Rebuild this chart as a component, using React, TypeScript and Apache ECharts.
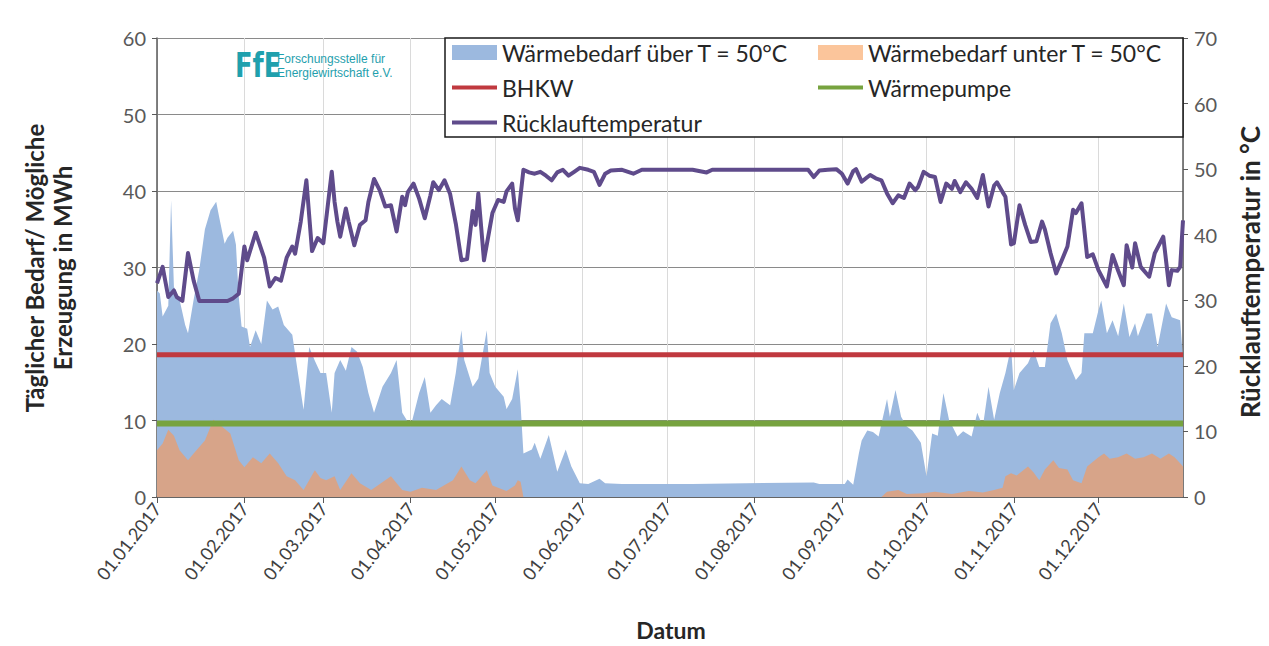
import React, { useEffect, useRef } from "react";
import * as echarts from "echarts";

// Day of year (0 = 01.01.2017) and daily heat demand above the 50 °C return temperature, MWh
const demandHighDays = [0, 1, 2, 4, 5, 6, 8, 10, 11, 13, 15, 17, 19, 21, 22, 24, 25, 27, 28, 29, 30, 32, 33, 35, 37, 39, 41, 43, 45, 48, 50, 52, 54, 56, 58, 60, 62, 63, 65, 67, 69, 71, 73, 75, 77, 80, 83, 85, 87, 90, 93, 95, 97, 99, 101, 104, 106, 108, 109, 112, 114, 117, 118, 120, 123, 124, 126, 128, 129, 130, 133, 134, 136, 139, 142, 145, 147, 150, 153, 157, 159, 165, 190, 233, 235, 244, 245, 247, 249, 250, 252, 254, 256, 259, 260, 262, 264, 266, 268, 271, 273, 275, 277, 279, 281, 284, 286, 289, 291, 293, 295, 297, 299, 301, 303, 304, 306, 309, 311, 313, 315, 317, 319, 321, 323, 326, 328, 329, 332, 334, 335, 337, 339, 341, 343, 345, 347, 348, 351, 353, 355, 358, 360, 363, 364];
const demandHighValues = [27.0, 26.6, 23.6, 25.0, 38.8, 27.5, 25.8, 22.5, 21.4, 25.8, 29.7, 35.0, 37.5, 38.6, 36.7, 33.1, 33.9, 34.8, 33.0, 26.2, 22.3, 22.0, 19.6, 21.8, 20.0, 25.7, 24.5, 24.9, 22.5, 21.2, 16.2, 11.4, 19.6, 17.8, 16.2, 16.2, 11.0, 16.2, 17.9, 16.5, 19.6, 19.0, 17.0, 13.6, 11.0, 14.4, 16.2, 17.9, 11.0, 9.2, 13.6, 15.7, 11.0, 12.0, 12.8, 12.0, 16.2, 21.8, 17.9, 14.4, 15.5, 21.8, 16.2, 14.4, 13.1, 11.5, 12.8, 16.7, 12.0, 5.7, 6.2, 7.1, 5.0, 8.1, 3.3, 6.2, 4.0, 1.8, 1.7, 2.4, 1.8, 1.7, 1.7, 1.9, 1.7, 1.7, 2.3, 1.6, 5.7, 7.4, 8.7, 8.5, 7.9, 12.8, 10.5, 14.0, 10.5, 9.2, 8.7, 7.1, 2.7, 8.3, 8.0, 13.6, 10.1, 7.9, 8.6, 7.9, 11.0, 9.2, 14.4, 10.1, 13.6, 16.2, 19.6, 14.0, 16.2, 17.5, 19.2, 17.0, 17.0, 22.7, 24.0, 21.4, 17.9, 15.3, 16.2, 21.4, 21.4, 24.4, 25.7, 21.4, 23.1, 21.0, 25.3, 20.9, 22.7, 21.0, 24.0, 24.0, 19.6, 25.3, 23.5, 23.1, 17.9];

// Daily heat demand below the 50 °C return temperature, MWh
const demandLowDays = [0, 2, 4, 6, 8, 11, 13, 17, 20, 22, 23, 26, 29, 31, 34, 37, 40, 43, 46, 49, 52, 56, 58, 60, 63, 65, 69, 72, 76, 83, 87, 90, 94, 99, 105, 108, 111, 113, 117, 119, 121, 124, 127, 128, 129, 130, 257, 259, 263, 266, 272, 276, 282, 288, 293, 297, 300, 301, 303, 305, 309, 311, 313, 315, 318, 320, 323, 325, 328, 330, 334, 336, 338, 341, 344, 347, 350, 353, 356, 359, 361, 363, 364];
const demandLowValues = [6.1, 7.0, 8.8, 8.0, 6.1, 4.8, 5.7, 7.4, 10.1, 9.5, 9.2, 8.3, 4.8, 3.9, 5.2, 4.4, 5.7, 4.4, 2.7, 2.2, 0.9, 3.5, 2.5, 2.2, 2.7, 0.9, 3.1, 1.8, 0.9, 2.7, 0.9, 0.7, 1.2, 0.9, 2.2, 4.0, 2.2, 1.8, 3.5, 1.5, 1.2, 0.8, 1.5, 2.2, 2.0, 0, 0, 0.7, 0.9, 0.4, 0.5, 0.7, 0.4, 0.8, 0.6, 0.9, 1.2, 2.7, 3.1, 2.8, 4.0, 3.2, 2.2, 3.6, 4.8, 3.8, 3.6, 2.2, 1.8, 4.0, 5.2, 5.7, 5.0, 5.2, 5.7, 5.0, 5.2, 5.7, 5.0, 5.7, 5.2, 4.4, 4.0];

// Daily return temperature, °C
const returnTempDays = [0, 2, 4, 6, 7, 9, 11, 13, 15, 20, 25, 27, 29, 31, 32, 35, 38, 40, 42, 44, 46, 48, 49, 51, 53, 55, 57, 59, 60, 62, 63, 64, 65, 67, 68, 70, 72, 74, 75, 77, 79, 81, 83, 85, 87, 88, 89, 91, 93, 95, 97, 98, 100, 102, 104, 106, 108, 110, 112, 113, 114, 116, 117, 119, 121, 123, 124, 126, 127, 128, 130, 132, 134, 136, 138, 140, 142, 144, 146, 148, 150, 153, 155, 157, 159, 161, 165, 169, 172, 180, 190, 195, 197, 205, 215, 225, 231, 233, 235, 238, 241, 243, 245, 247, 248, 250, 253, 255, 257, 259, 261, 263, 265, 267, 269, 270, 272, 274, 276, 278, 280, 282, 283, 285, 287, 289, 291, 293, 295, 297, 298, 300, 301, 303, 304, 306, 308, 310, 312, 314, 315, 317, 319, 321, 323, 325, 326, 328, 330, 332, 334, 337, 339, 341, 343, 344, 346, 347, 349, 352, 354, 357, 359, 360, 362, 363, 364];
const returnTempValues = [32.6, 35.1, 30.5, 31.5, 30.5, 29.9, 37.2, 33.0, 29.9, 29.9, 29.9, 30.3, 31.0, 38.2, 36.1, 40.3, 36.5, 32.1, 33.4, 33.0, 36.5, 38.2, 37.1, 42.0, 48.3, 37.5, 39.5, 38.7, 42.3, 49.6, 45.0, 42.0, 39.7, 44.0, 42.0, 38.4, 41.5, 42.2, 45.0, 48.5, 46.8, 44.3, 44.5, 40.5, 45.8, 44.5, 46.5, 47.8, 45.5, 42.5, 46.0, 48.0, 46.8, 48.3, 46.2, 41.7, 36.1, 36.3, 43.6, 41.5, 46.3, 36.1, 38.5, 43.3, 45.3, 45.0, 46.6, 47.8, 44.0, 42.2, 49.9, 49.5, 49.3, 49.6, 49.0, 48.3, 49.5, 49.9, 49.0, 49.6, 50.2, 49.9, 49.6, 47.6, 49.3, 49.8, 49.9, 49.3, 49.9, 49.9, 49.9, 49.5, 49.9, 49.9, 49.9, 49.9, 49.9, 48.8, 49.8, 49.9, 50.0, 49.3, 47.8, 49.7, 50.0, 48.1, 49.1, 48.6, 48.3, 46.3, 44.8, 46.0, 45.6, 47.8, 46.8, 47.3, 49.6, 49.0, 48.8, 45.0, 47.8, 47.0, 48.2, 46.5, 48.0, 47.0, 45.6, 49.1, 44.3, 47.5, 48.0, 46.5, 45.8, 38.5, 38.7, 44.5, 41.5, 38.9, 39.0, 42.0, 40.8, 37.2, 34.1, 36.1, 38.2, 43.8, 43.3, 44.8, 36.6, 37.0, 34.6, 32.1, 36.9, 34.5, 32.3, 38.4, 35.0, 38.7, 35.1, 33.6, 37.2, 39.7, 32.3, 34.6, 34.5, 35.1, 42.2];

// Possible daily generation of the two heat sources, MWh
const chpCapacity = 18.6;
const heatPumpCapacity = 9.6;

const monthTickFormat = "{dd}.{MM}.{yyyy}";

const FONT = "Lato, 'Open Sans', sans-serif";
const NAME_HIGH = "Wärmebedarf über T = 50°C";
const NAME_LOW = "Wärmebedarf unter T = 50°C";
const NAME_CHP = "BHKW";
const NAME_HP = "Wärmepumpe";
const NAME_RET = "Rücklauftemperatur";

const COLOR_HIGH = "#9cb9df";
const COLOR_LOW = "#fbc59b";
const COLOR_CHP = "#c0393f";
const COLOR_HP = "#77a33f";
const COLOR_RET = "#5f4b8b";

const toTime = (d: number) => new Date(2017, 0, 1 + d).getTime();
const pairs = (days: number[], vals: number[]) => days.map((d, i) => [toTime(d), vals[i]]);

const START = toTime(0);
const END = toTime(364);

export default function App() {
  const ref = useRef<HTMLDivElement>(null);

  useEffect(() => {
    if (!ref.current) return;
    const chart = echarts.init(ref.current, null, { renderer: "svg" });

    const legendText = { fontSize: 23, color: "#262626", fontFamily: FONT };
    const swatchLegend = {
      orient: "horizontal" as const,
      itemWidth: 45,
      itemHeight: 15,
      padding: 0,
      textStyle: legendText,
      selectedMode: false,
      z: 20,
    };
    const lineLegend = { ...swatchLegend, itemHeight: 4 };

    const titleStyle = (text: string, size: number) => ({
      text,
      font: `bold ${size}px ${FONT}`,
      fill: "#262626",
      textAlign: "center",
      textVerticalAlign: "middle",
    });

    chart.setOption({
      animation: false,
      textStyle: { fontFamily: FONT },
      grid: { left: 157, right: 86, top: 38, bottom: 149, containLabel: false },
      xAxis: {
        type: "time",
        min: START,
        max: END,
        splitNumber: 12,
        minInterval: 28 * 86400000,
        maxInterval: 31 * 86400000,
        axisLine: { lineStyle: { color: "#595959", width: 1.5 } },
        axisTick: { show: true, length: 6, lineStyle: { color: "#595959" } },
        axisLabel: {
          formatter: monthTickFormat,
          rotate: 52,
          fontSize: 18,
          color: "#404040",
          margin: 8,
          hideOverlap: false,
          showMaxLabel: false,
        },
        splitLine: { show: true, lineStyle: { color: "#dadada", width: 1 } },
      },
      yAxis: [
        {
          type: "value",
          min: 0,
          max: 60,
          interval: 10,
          axisLine: { show: true, lineStyle: { color: "#595959", width: 1.5 } },
          axisTick: { show: true, length: 5, lineStyle: { color: "#595959" } },
          axisLabel: { fontSize: 20, color: "#595959", margin: 11 },
          splitLine: { show: true, lineStyle: { color: "#8a8a8a", width: 1.2 } },
        },
        {
          type: "value",
          min: 0,
          max: 70,
          interval: 10,
          position: "right",
          axisLine: { show: true, lineStyle: { color: "#595959", width: 1.5 } },
          axisTick: { show: true, length: 5, lineStyle: { color: "#595959" } },
          axisLabel: { fontSize: 20, color: "#595959", margin: 11 },
          splitLine: { show: false },
        },
      ],
      legend: [
        { ...swatchLegend, left: 452, top: 41, data: [{ name: NAME_HIGH, icon: "rect", itemStyle: { color: COLOR_HIGH } }] },
        { ...swatchLegend, left: 818, top: 41, data: [{ name: NAME_LOW, icon: "rect", itemStyle: { color: COLOR_LOW } }] },
        { ...lineLegend, left: 452, top: 76, data: [{ name: NAME_CHP, icon: "rect", itemStyle: { color: COLOR_CHP } }] },
        { ...lineLegend, left: 818, top: 76, data: [{ name: NAME_HP, icon: "rect", itemStyle: { color: COLOR_HP } }] },
        { ...lineLegend, left: 452, top: 111, data: [{ name: NAME_RET, icon: "rect", itemStyle: { color: COLOR_RET } }] },
      ],
      graphic: [
        {
          type: "rect",
          z: 10,
          shape: { x: 445, y: 38, width: 738, height: 99 },
          style: { fill: "#ffffff", stroke: "#1a1a1a", lineWidth: 1.5 },
        },
        {
          type: "text",
          z: 10,
          x: 235,
          y: 49,
          scaleX: 0.78,
          style: { text: "FfE", font: "bold 33px 'DejaVu Sans', sans-serif", fill: "#1fa0ad" },
        },
        {
          type: "text",
          z: 10,
          x: 277,
          y: 53,
          style: { text: "Forschungsstelle für", font: "12px 'Liberation Sans', sans-serif", fill: "#1fa0ad" },
        },
        {
          type: "text",
          z: 10,
          x: 277,
          y: 67,
          style: { text: "Energiewirtschaft e.V.", font: "12px 'Liberation Sans', sans-serif", fill: "#1fa0ad" },
        },
        { type: "text", x: 34, y: 268, rotation: Math.PI / 2, style: titleStyle("Täglicher Bedarf/ Mögliche", 24) },
        { type: "text", x: 62, y: 268, rotation: Math.PI / 2, style: titleStyle("Erzeugung in MWh", 24) },
        { type: "text", x: 1250, y: 272, rotation: Math.PI / 2, style: titleStyle("Rücklauftemperatur in °C", 26) },
        { type: "text", x: 671, y: 630, style: titleStyle("Datum", 23) },
      ],
      series: [
        {
          name: NAME_HIGH,
          type: "line",
          data: pairs(demandHighDays, demandHighValues),
          symbol: "none",
          lineStyle: { width: 0 },
          itemStyle: { color: COLOR_HIGH },
          areaStyle: { color: COLOR_HIGH, opacity: 1 },
          z: 2,
        },
        {
          name: NAME_LOW,
          type: "line",
          data: pairs(demandLowDays, demandLowValues),
          symbol: "none",
          lineStyle: { width: 0 },
          itemStyle: { color: COLOR_LOW },
          areaStyle: { color: "rgba(255,150,80,0.6)", opacity: 1 },
          z: 3,
        },
        {
          name: NAME_CHP,
          type: "line",
          data: [[START, chpCapacity], [END, chpCapacity]],
          symbol: "none",
          itemStyle: { color: COLOR_CHP },
          lineStyle: { color: COLOR_CHP, width: 5 },
          z: 4,
        },
        {
          name: NAME_HP,
          type: "line",
          data: [[START, heatPumpCapacity], [END, heatPumpCapacity]],
          symbol: "none",
          itemStyle: { color: COLOR_HP },
          lineStyle: { color: COLOR_HP, width: 6 },
          z: 4,
        },
        {
          name: NAME_RET,
          type: "line",
          yAxisIndex: 1,
          data: pairs(returnTempDays, returnTempValues),
          symbol: "none",
          itemStyle: { color: COLOR_RET },
          lineStyle: { color: COLOR_RET, width: 4, join: "round" },
          z: 5,
        },
      ],
    });

    return () => chart.dispose();
  }, []);

  return (
    <div
      ref={ref}
      style={{ position: "absolute", left: 0, top: 0, width: 1269, height: 646, background: "#ffffff" }}
    />
  );
}
